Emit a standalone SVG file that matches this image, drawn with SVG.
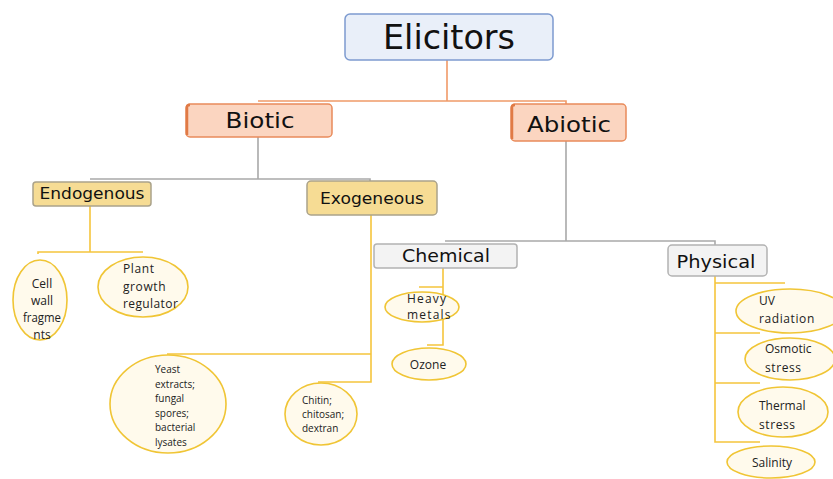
<svg xmlns="http://www.w3.org/2000/svg" width="833" height="479" viewBox="0 0 833 479">
<style>
.box-blue{fill:#e9eff9;stroke:#7d9bd0;stroke-width:1.5}
.box-orange{fill:#fbd5c0;stroke:#e98b5b;stroke-width:1.5}
.box-gold{fill:#f6dc94;stroke:#aaa28a;stroke-width:1.5}
.box-gray{fill:#f3f3f3;stroke:#b3b3b3;stroke-width:1.5}
.head{font-family:"DejaVu Sans","Noto Sans",sans-serif;fill:#111}
.oval{fill:#fffaec;stroke:#f0c535;stroke-width:1.6}
.lbl{font-family:"Open Sans","Liberation Sans",sans-serif;font-size:12px;fill:#222}
.sm{font-size:10px}
.c-orange{stroke:#f09a68;stroke-width:1.6;fill:none}
.c-gray{stroke:#a9a9a9;stroke-width:1.6;fill:none}
.c-yellow{stroke:#f5c53c;stroke-width:1.6;fill:none}
</style>
<rect width="833" height="479" fill="#ffffff"/>
<g id="connectors">
<path class="c-orange" d="M447 60 V101 M258 101 H566 V104"/>
<path class="c-gray" d="M258 137 V179 M90 179 H370 V181"/>
<path class="c-gray" d="M566 141 V241 M445 241 H715 V245"/>
<path class="c-yellow" d="M90 206 V252 M38 254 V252 H143"/>
<path class="c-yellow" d="M371 215 V382 H318 M167 354 H371"/>
<path class="c-yellow" d="M443 268 V345 H427 M419 287 H443"/>
<path class="c-yellow" d="M715 276 V442 H760 M715 283 H785 M715 333 H760 M715 383 H760"/>
</g>
<g id="elicitors">
<rect class="box-blue" x="345" y="14" width="208" height="46" rx="5"/>
<text class="head" x="449" y="49" font-size="33" text-anchor="middle" textLength="132" lengthAdjust="spacingAndGlyphs">Elicitors</text>
</g>
<g id="biotic">
<rect class="box-orange" x="186" y="104" width="146" height="33" rx="4"/>
<path d="M187 135 V107 Q187 105 190 105" stroke="#e07a45" stroke-width="2.5" fill="none"/>
<text class="head" x="260" y="128" font-size="21" text-anchor="middle" textLength="69" lengthAdjust="spacingAndGlyphs">Biotic</text>
</g>
<g id="abiotic">
<rect class="box-orange" x="511" y="104" width="115" height="37" rx="4"/>
<path d="M512 139 V107 Q512 105 515 105" stroke="#e07a45" stroke-width="2.5" fill="none"/>
<text class="head" x="569" y="132" font-size="21" text-anchor="middle" textLength="84" lengthAdjust="spacingAndGlyphs">Abiotic</text>
</g>
<g id="endogenous">
<rect class="box-gold" x="33" y="182" width="118" height="24" rx="3"/>
<text class="head" x="92" y="199" font-size="16" text-anchor="middle" textLength="105" lengthAdjust="spacingAndGlyphs">Endogenous</text>
</g>
<g id="exogeneous">
<rect class="box-gold" x="307" y="181" width="130" height="34" rx="4"/>
<text class="head" x="372" y="204" font-size="16" text-anchor="middle" textLength="104" lengthAdjust="spacingAndGlyphs">Exogeneous</text>
</g>
<g id="chemical">
<rect class="box-gray" x="374" y="244" width="143" height="24" rx="3"/>
<text class="head" x="446" y="262" font-size="18" text-anchor="middle" textLength="88" lengthAdjust="spacingAndGlyphs">Chemical</text>
</g>
<g id="physical">
<rect class="box-gray" x="668" y="245" width="99" height="31" rx="4"/>
<text class="head" x="716" y="268" font-size="18" text-anchor="middle" textLength="79" lengthAdjust="spacingAndGlyphs">Physical</text>
</g>
<g id="cell-wall">
<ellipse class="oval" cx="40" cy="300" rx="27" ry="40"/>
<text class="lbl" x="42" y="288" text-anchor="middle" font-size="12">Cell</text>
<text class="lbl" x="42" y="305" text-anchor="middle" font-size="12">wall</text>
<text class="lbl" x="42" y="322" text-anchor="middle" font-size="12" textLength="38" lengthAdjust="spacingAndGlyphs">fragme</text>
<text class="lbl" x="42" y="339" text-anchor="middle" font-size="12">nts</text>
</g>
<g id="plant-growth">
<ellipse class="oval" cx="143" cy="287" rx="45" ry="30"/>
<text class="lbl" x="123" y="273" letter-spacing="0.6">Plant</text>
<text class="lbl" x="123" y="291" letter-spacing="0.6">growth</text>
<text class="lbl" x="123" y="308" letter-spacing="0.4">regulator</text>
</g>
<g id="yeast">
<ellipse class="oval" cx="168" cy="404" rx="58" ry="49"/>
<text class="lbl sm" x="155" y="373">Yeast</text>
<text class="lbl sm" x="155" y="387.5">extracts;</text>
<text class="lbl sm" x="155" y="402">fungal</text>
<text class="lbl sm" x="155" y="416.5">spores;</text>
<text class="lbl sm" x="155" y="431">bacterial</text>
<text class="lbl sm" x="155" y="445.5">lysates</text>
</g>
<g id="chitin">
<ellipse class="oval" cx="321" cy="414" rx="36" ry="31"/>
<text class="lbl sm" x="302" y="404">Chitin;</text>
<text class="lbl sm" x="302" y="418">chitosan;</text>
<text class="lbl sm" x="302" y="432">dextran</text>
</g>
<g id="heavy-metals">
<ellipse class="oval" cx="422" cy="307" rx="37" ry="15"/>
<text class="lbl" x="407" y="303" letter-spacing="1.2">Heavy</text>
<text class="lbl" x="407" y="319" letter-spacing="1.2">metals</text>
</g>
<g id="ozone">
<ellipse class="oval" cx="429" cy="364" rx="37" ry="16"/>
<text class="lbl" x="428" y="369" text-anchor="middle" font-size="13">Ozone</text>
</g>
<g id="uv">
<ellipse class="oval" cx="790" cy="311" rx="54" ry="22"/>
<text class="lbl" x="759" y="305" font-size="13">UV</text>
<text class="lbl" x="759" y="323" font-size="13" letter-spacing="0.6">radiation</text>
</g>
<g id="osmotic">
<ellipse class="oval" cx="790" cy="359" rx="45" ry="21"/>
<text class="lbl" x="765" y="353" font-size="13">Osmotic</text>
<text class="lbl" x="765" y="372" font-size="13" letter-spacing="0.6">stress</text>
</g>
<g id="thermal">
<ellipse class="oval" cx="783" cy="412" rx="45" ry="25"/>
<text class="lbl" x="759" y="410" font-size="13">Thermal</text>
<text class="lbl" x="759" y="429" font-size="13" letter-spacing="0.6">stress</text>
</g>
<g id="salinity">
<ellipse class="oval" cx="771" cy="462" rx="44" ry="16"/>
<text class="lbl" x="772" y="467" text-anchor="middle" font-size="13">Salinity</text>
</g>
</svg>
